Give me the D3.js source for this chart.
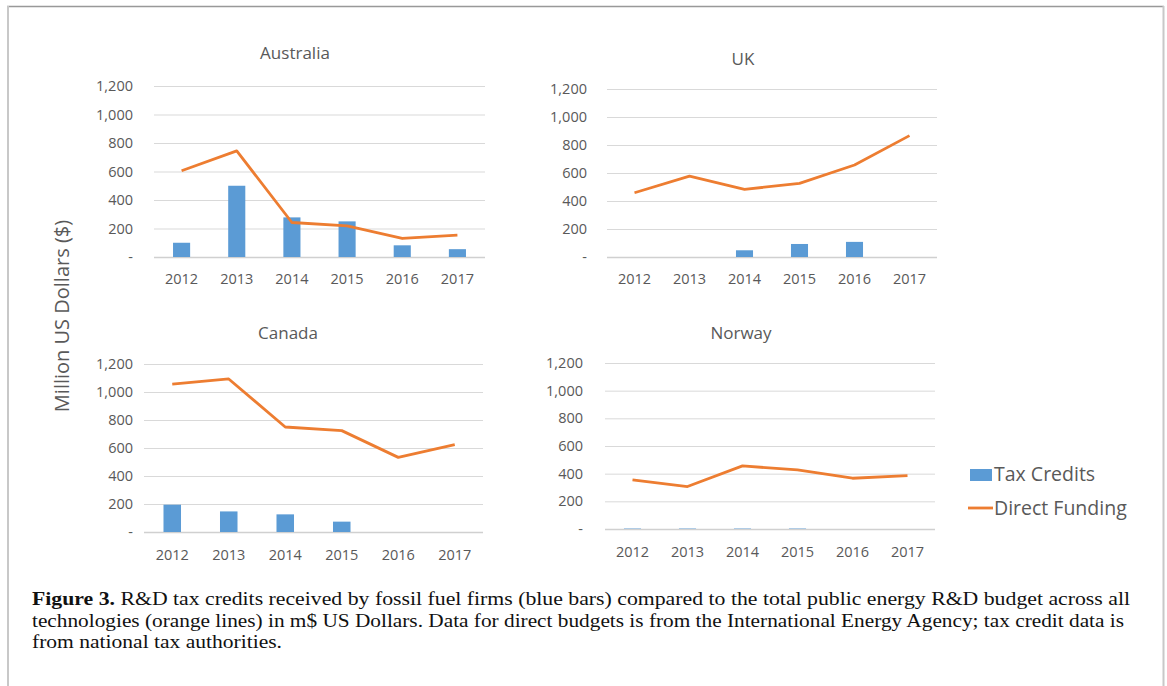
<!DOCTYPE html>
<html>
<head>
<meta charset="utf-8">
<script src="https://cdn.jsdelivr.net/npm/d3@7"></script>
<style>
  body { margin: 0; background: #fff; }
  svg { display: block; }
</style>
</head>
<body>
<div id="chart"></div>
<script>
const years = ["2012", "2013", "2014", "2015", "2016", "2017"];
const countries = ["Australia", "UK", "Canada", "Norway"];
const yTicks = [0, 200, 400, 600, 800, 1000, 1200];

const taxAustralia = [100, 500, 278, 250, 82, 55];
const taxUK = [0, 0, 48, 93, 108, 0];
const taxCanada = [195, 147, 126, 74, 0, 0];
const taxNorway = [7, 7, 7, 7, 0, 0];

const directAustralia = [605, 745, 242, 218, 130, 153];
const directUK = [459, 578, 483, 526, 657, 867];
const directCanada = [1057, 1093, 750, 724, 533, 624];
const directNorway = [355, 307, 456, 427, 367, 386];

const taxCredits = [taxAustralia, taxUK, taxCanada, taxNorway];
const directFunding = [directAustralia, directUK, directCanada, directNorway];

const captionLines = [
    "R&D tax credits received by fossil fuel firms (blue bars) compared to the total public energy R&D budget across all",
    "technologies (orange lines) in m$ US Dollars. Data for direct budgets is from the International Energy Agency; tax credit data is",
    "from national tax authorities."
];

const blue = "#5B9BD5", orange = "#ED7D31", grey = "#595959";
const font = "'Open Sans', sans-serif";

// plot boxes: x0..x1 gridline extent, yTop = 1,200 line, yBottom = zero line
const panels = [
    { x0: 154, x1: 485, yTop: 86, yBottom: 257, titleX: 295, titleY: 53, labelX: 133, yearY: 279 },
    { x0: 607, x1: 937, yTop: 89, yBottom: 257, titleX: 743, titleY: 59, labelX: 587, yearY: 279 },
    { x0: 144, x1: 483, yTop: 364, yBottom: 532, titleX: 288, titleY: 333, labelX: 133, yearY: 555 },
    { x0: 605, x1: 935, yTop: 363, yBottom: 529, titleX: 741, titleY: 333, labelX: 583, yearY: 552 }
];

const width = 1167, height = 686;
const svg = d3.select("#chart").append("svg")
    .attr("width", width)
    .attr("height", height);

// frame
svg.append("line").attr("x1", 7).attr("x2", 1164).attr("y1", 6.5).attr("y2", 6.5)
    .attr("stroke", "#999").attr("stroke-width", 1.5);
svg.append("line").attr("x1", 8).attr("x2", 8).attr("y1", 6).attr("y2", height)
    .attr("stroke", "#c8c8c8").attr("stroke-width", 2);
svg.append("line").attr("x1", 1163.5).attr("x2", 1163.5).attr("y1", 6).attr("y2", height)
    .attr("stroke", "#c8c8c8").attr("stroke-width", 2);

countries.forEach((country, i) => {
    const p = panels[i];
    const g = svg.append("g");

    const x = d3.scaleBand().domain(years).range([p.x0, p.x1]);
    const y = d3.scaleLinear().domain([0, 1200]).range([p.yBottom, p.yTop]);

    // gridlines + y labels
    const yAxis = g.append("g")
        .attr("transform", `translate(${p.x0},0)`)
        .call(d3.axisLeft(y).tickValues(yTicks)
            .tickSize(-(p.x1 - p.x0))
            .tickPadding(p.x0 - p.labelX)
            .tickFormat(d => d === 0 ? "-" : d3.format(",")(d)));
    yAxis.select(".domain").remove();
    yAxis.selectAll("line").attr("stroke", "#d9d9d9").attr("stroke-width", 1);
    yAxis.selectAll("line").filter(d => d === 0).attr("stroke", "#d0d0d0").attr("stroke-width", 1.3);
    yAxis.selectAll("text").attr("fill", grey).style("font-family", font).style("font-size", "14.5px");

    // year labels
    g.selectAll(".year")
        .data(years)
        .join("text")
        .attr("x", d => x(d) + x.bandwidth() / 2)
        .attr("y", p.yearY + 5)
        .attr("text-anchor", "middle")
        .attr("fill", grey)
        .style("font-family", font)
        .style("font-size", "14.5px")
        .text(d => d);

    // bars
    const bw = x.bandwidth() * 0.31;
    g.selectAll(".bar")
        .data(taxCredits[i].map((v, j) => ({ year: years[j], v })).filter(d => d.v > 0))
        .join("rect")
        .attr("x", d => x(d.year) + x.bandwidth() / 2 - bw / 2)
        .attr("y", d => y(d.v))
        .attr("width", bw)
        .attr("height", d => y(0) - y(d.v))
        .attr("fill", blue)
        .attr("opacity", d => d.v < 20 ? 0.45 : 1);

    // line
    const line = d3.line()
        .x((d, j) => x(years[j]) + x.bandwidth() / 2)
        .y(d => y(d));
    g.append("path")
        .datum(directFunding[i])
        .attr("d", line)
        .attr("fill", "none")
        .attr("stroke", orange)
        .attr("stroke-width", 2.8)
        .attr("stroke-linejoin", "round");

    // title
    g.append("text")
        .attr("x", p.titleX)
        .attr("y", p.titleY + 6)
        .attr("text-anchor", "middle")
        .attr("fill", grey)
        .style("font-family", font)
        .style("font-size", "17px")
        .text(country);
});

// shared y title
svg.append("text")
    .attr("transform", "translate(69,316) rotate(-90)")
    .attr("text-anchor", "middle")
    .attr("fill", grey)
    .style("font-family", font)
    .style("font-size", "20px")
    .text("Million US Dollars ($)");

// legend
const legend = svg.append("g");
legend.append("rect")
    .attr("x", 970).attr("y", 469).attr("width", 22).attr("height", 12)
    .attr("fill", blue);
legend.append("text")
    .attr("x", 994).attr("y", 481)
    .attr("fill", grey)
    .style("font-family", font).style("font-size", "19.5px")
    .text("Tax Credits");
legend.append("line")
    .attr("x1", 968).attr("x2", 993).attr("y1", 508).attr("y2", 508)
    .attr("stroke", orange).attr("stroke-width", 2.8);
legend.append("text")
    .attr("x", 994).attr("y", 515)
    .attr("fill", grey)
    .style("font-family", font).style("font-size", "19.5px")
    .text("Direct Funding");

// caption
const cap = svg.append("g")
    .style("font-family", "'Liberation Serif', 'Times New Roman', serif")
    .style("font-size", "19px")
    .attr("fill", "#111");
const lengths = [1098, 1092, 250];
captionLines.forEach((t, k) => {
    const txt = cap.append("text")
        .attr("x", 32)
        .attr("y", 605 + k * 21.5)
        .attr("textLength", lengths[k])
        .attr("lengthAdjust", "spacingAndGlyphs");
    if (k === 0) {
        txt.append("tspan").style("font-weight", "bold").text("Figure 3. ");
    }
    txt.append("tspan").text(t);
});
</script>
</body>
</html>
